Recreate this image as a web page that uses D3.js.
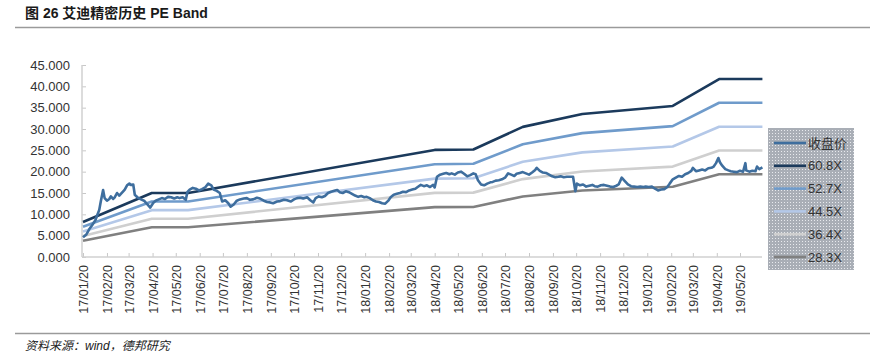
<!DOCTYPE html>
<html>
<head>
<meta charset="utf-8">
<script src="https://cdn.jsdelivr.net/npm/d3@7"></script>
<style>
  html, body { margin: 0; padding: 0; background: #fff; }
  svg { display: block; }
</style>
</head>
<body>
<svg id="chart" width="872" height="355"></svg>
<script>
// ---------------- DATA ----------------
const title = "图 26 艾迪精密历史 PE Band";
const source = "资料来源：wind，德邦研究";

const yTicks = [0, 5, 10, 15, 20, 25, 30, 35, 40, 45];
const xTickLabels = ["17/01/20","17/02/20","17/03/20","17/04/20","17/05/20","17/06/20","17/07/20",
  "17/08/20","17/09/20","17/10/20","17/11/20","17/12/20","18/01/20","18/02/20","18/03/20","18/04/20",
  "18/05/20","18/06/20","18/07/20","18/08/20","18/09/20","18/10/20","18/11/20","18/12/20","19/01/20",
  "19/02/20","19/03/20","19/04/20","19/05/20"];

const seriesNames = ["收盘价", "60.8X", "52.7X", "44.5X", "36.4X", "28.3X"];
const peMultiples = [60.8, 52.7, 44.5, 36.4, 28.3];

// EPS (trailing) breakpoints used to build the PE band lines
const epsDates = ["2017-01-20","2017-04-19","2017-06-05","2018-04-20","2018-06-09",
  "2018-08-12","2018-10-28","2019-02-22","2019-04-23","2019-06-18"];
const epsValues = [0.1349, 0.2467, 0.2467, 0.4128, 0.4145, 0.5016, 0.5510, 0.5822, 0.6859, 0.6859];

// closing price
const priceDates = [
"2017-01-20","2017-01-24","2017-01-28","2017-02-01","2017-02-05","2017-02-07","2017-02-10","2017-02-12","2017-02-15","2017-02-17",
"2017-02-20","2017-02-23","2017-02-25","2017-02-28","2017-03-02","2017-03-05","2017-03-08","2017-03-10","2017-03-13","2017-03-15",
"2017-03-18","2017-03-21","2017-03-23","2017-03-26","2017-03-28","2017-04-01","2017-04-05","2017-04-09","2017-04-13","2017-04-17",
"2017-04-21","2017-04-24","2017-04-28","2017-05-02","2017-05-06","2017-05-10","2017-05-14","2017-05-18","2017-05-22","2017-05-25",
"2017-05-29","2017-06-02","2017-06-04","2017-06-07","2017-06-11","2017-06-15","2017-06-19","2017-06-23","2017-06-27","2017-07-01",
"2017-07-05","2017-07-08","2017-07-12","2017-07-16","2017-07-19","2017-07-23","2017-07-27","2017-07-30","2017-08-03","2017-08-07",
"2017-08-11","2017-08-16","2017-08-20","2017-08-24","2017-08-28","2017-09-02","2017-09-06","2017-09-11","2017-09-15","2017-09-19",
"2017-09-23","2017-09-28","2017-10-02","2017-10-07","2017-10-11","2017-10-16","2017-10-20","2017-10-24","2017-10-28","2017-11-01",
"2017-11-06","2017-11-10","2017-11-14","2017-11-17","2017-11-21","2017-11-25","2017-11-29","2017-12-03","2017-12-07","2017-12-11",
"2017-12-15","2017-12-18","2017-12-22","2017-12-26","2017-12-30","2018-01-03","2018-01-07","2018-01-11","2018-01-15","2018-01-19",
"2018-01-22","2018-01-26","2018-01-30","2018-02-03","2018-02-07","2018-02-11","2018-02-15","2018-02-19","2018-02-22","2018-02-26",
"2018-03-02","2018-03-06","2018-03-10","2018-03-14","2018-03-18","2018-03-22","2018-03-26","2018-03-29","2018-04-02","2018-04-06",
"2018-04-10","2018-04-14","2018-04-18","2018-04-20","2018-04-23","2018-04-27","2018-05-01","2018-05-05","2018-05-09","2018-05-12",
"2018-05-16","2018-05-20","2018-05-24","2018-05-28","2018-06-01","2018-06-05","2018-06-09","2018-06-12","2018-06-15","2018-06-19",
"2018-06-23","2018-06-27","2018-07-01","2018-07-04","2018-07-08","2018-07-12","2018-07-16","2018-07-20","2018-07-24","2018-07-28",
"2018-08-01","2018-08-04","2018-08-08","2018-08-12","2018-08-16","2018-08-20","2018-08-24","2018-08-28","2018-08-30","2018-09-03",
"2018-09-07","2018-09-11","2018-09-15","2018-09-19","2018-09-23","2018-09-27","2018-09-30","2018-10-04","2018-10-08","2018-10-12",
"2018-10-16","2018-10-19","2018-10-21","2018-10-25","2018-10-29","2018-11-02","2018-11-06","2018-11-10","2018-11-13","2018-11-17",
"2018-11-21","2018-11-25","2018-11-29","2018-12-03","2018-12-07","2018-12-11","2018-12-14","2018-12-18","2018-12-22","2018-12-26",
"2018-12-30","2019-01-03","2019-01-07","2019-01-11","2019-01-15","2019-01-18","2019-01-22","2019-01-26","2019-01-30","2019-02-03",
"2019-02-07","2019-02-11","2019-02-15","2019-02-18","2019-02-22","2019-02-26","2019-03-02","2019-03-06","2019-03-10","2019-03-14",
"2019-03-18","2019-03-20","2019-03-24","2019-03-28","2019-04-01","2019-04-05","2019-04-09","2019-04-13","2019-04-16","2019-04-19",
"2019-04-22","2019-04-24","2019-04-27","2019-05-01","2019-05-05","2019-05-08","2019-05-12","2019-05-16","2019-05-20","2019-05-24",
"2019-05-27","2019-05-28","2019-06-01","2019-06-05","2019-06-09","2019-06-11","2019-06-14","2019-06-18"];
const priceValues = [
4.6,5.2,6.5,7.5,8.6,9.6,11.0,13.0,15.7,13.8,
13.2,13.6,14.2,13.6,14.0,15.0,14.4,14.8,15.4,15.8,
16.8,17.2,16.9,17.0,14.6,13.9,13.5,13.2,12.4,11.6,
12.7,13.2,13.5,13.8,13.6,14.1,14.0,13.7,14.0,13.8,
14.0,13.4,15.2,15.8,16.2,16.0,15.6,15.9,16.3,17.2,
16.8,15.8,15.5,15.0,13.0,13.3,12.6,11.8,12.3,13.2,
13.5,13.7,13.8,13.4,13.5,13.9,13.7,13.2,12.9,12.8,
12.6,13.0,13.1,13.4,13.3,13.0,13.5,13.8,13.9,13.7,
14.0,13.3,12.8,13.8,14.2,14.0,14.3,15.0,15.3,15.5,
15.7,15.2,15.0,15.4,15.2,14.8,14.4,14.1,14.3,14.0,
14.1,13.8,13.3,13.0,12.9,12.6,12.5,13.2,14.0,14.6,
14.8,15.0,15.3,15.2,15.6,15.8,16.0,16.4,16.9,16.6,
16.8,16.4,16.9,16.3,18.8,19.3,19.5,19.7,19.4,19.6,
19.3,19.8,20.0,19.5,18.9,19.2,19.6,19.4,18.0,17.0,
16.8,17.2,17.5,17.6,17.9,18.0,18.2,18.6,19.6,19.3,
19.0,19.5,19.7,19.9,19.6,19.3,19.8,20.4,20.9,20.2,
19.8,19.7,19.3,18.9,18.7,18.8,18.9,18.7,18.8,18.8,
18.8,15.4,17.2,16.8,17.0,16.5,16.7,16.9,16.6,16.5,
16.8,16.9,16.7,16.5,16.4,16.7,17.0,18.6,17.8,17.0,
16.6,16.5,16.4,16.5,16.4,16.5,16.4,16.5,16.0,15.6,
15.8,15.9,16.4,17.2,18.2,18.6,19.0,18.8,19.4,19.7,
20.2,20.9,20.1,20.3,20.5,20.3,20.8,20.9,21.2,22.0,
23.2,22.2,21.4,20.6,20.3,20.1,20.0,19.9,20.2,20.0,
22.0,20.3,20.0,20.2,20.1,21.2,20.6,21.0];

const colors = ["#3e6e9e", "#1b3a5c", "#6f9bcb", "#b4c8e8", "#cfcfcf", "#808080"];

// ---------------- DRAW ----------------
const parse = d3.timeParse("%Y-%m-%d");
const svg = d3.select("#chart");

const x = d3.scaleTime()
  .domain([parse("2017-01-20"), parse("2019-05-20")])
  .range([83, 740]);
const y = d3.scaleLinear().domain([0, 45]).range([257, 65]);

// title & rules
svg.append("text").attr("x", 25).attr("y", 18)
  .attr("font-family", "'Liberation Sans','Noto Sans CJK SC',sans-serif")
  .attr("font-weight", "bold").attr("font-size", 14).attr("fill", "#1a1a1a")
  .text(title);
svg.append("line").attr("x1", 15).attr("x2", 870).attr("y1", 27.5).attr("y2", 27.5)
  .attr("stroke", "#9a9a9a").attr("stroke-width", 1.5);
svg.append("line").attr("x1", 15).attr("x2", 870).attr("y1", 333.5).attr("y2", 333.5)
  .attr("stroke", "#9a9a9a").attr("stroke-width", 1.5);
svg.append("text").attr("x", 25).attr("y", 350)
  .attr("font-family", "'Liberation Sans','Noto Sans CJK SC',sans-serif")
  .attr("font-style", "italic").attr("font-size", 12).attr("fill", "#222")
  .attr("transform", "skewX(0)")
  .text(source);

// y axis
const yAxis = d3.axisLeft(y).tickValues(yTicks).tickFormat(d3.format(".3f")).tickSize(-4).tickPadding(12);
const gy = svg.append("g").attr("transform", "translate(82,0)").call(yAxis);
gy.select(".domain").remove();
gy.selectAll(".tick line").attr("stroke", "#c8c8c8");
gy.selectAll(".tick text").attr("font-family", "'Liberation Sans',Arial,sans-serif")
  .attr("font-size", 13).attr("fill", "#333");
svg.append("line").attr("x1", 82).attr("x2", 82).attr("y1", 65).attr("y2", 257)
  .attr("stroke", "#d0d0d0").attr("stroke-width", 1.5);

// x axis
const tickDates = xTickLabels.map(s => d3.timeParse("%y/%m/%d")(s));
const xAxis = d3.axisBottom(x).tickValues(tickDates).tickFormat(d3.timeFormat("%y/%m/%d")).tickSize(-4);
const gx = svg.append("g").attr("transform", "translate(0,257)").call(xAxis);
gx.select(".domain").remove();
gx.selectAll(".tick line").attr("stroke", "#c8c8c8");
gx.selectAll(".tick text")
  .attr("font-family", "'Liberation Sans',Arial,sans-serif")
  .attr("font-size", 12.5).attr("fill", "#333")
  .attr("text-anchor", "end").attr("dy", null).attr("y", 0)
  .attr("transform", "translate(4.5,8) rotate(-90)");
svg.append("line").attr("x1", 82).attr("x2", 762).attr("y1", 257).attr("y2", 257)
  .attr("stroke", "#d0d0d0").attr("stroke-width", 1.5);

// bands
const line = d3.line().x(d => x(d.date)).y(d => y(d.value));
peMultiples.forEach((m, i) => {
  const data = epsDates.map((d, j) => ({ date: parse(d), value: m * epsValues[j] }));
  svg.append("path").datum(data).attr("d", line)
    .attr("fill", "none").attr("stroke", colors[i + 1]).attr("stroke-width", 2.6)
    .attr("stroke-linejoin", "round");
});

// price
const priceData = priceDates.map((d, i) => ({ date: parse(d), value: priceValues[i] }));
svg.append("path").datum(priceData).attr("d", line)
  .attr("fill", "none").attr("stroke", colors[0]).attr("stroke-width", 2.6)
  .attr("stroke-linejoin", "round");

// legend
const defs = svg.append("defs");
const pat = defs.append("pattern").attr("id", "dots").attr("patternUnits", "userSpaceOnUse")
  .attr("width", 3).attr("height", 3);
pat.append("rect").attr("width", 3).attr("height", 3).attr("fill", "#a9aeb6");
pat.append("rect").attr("x", 1).attr("y", 1).attr("width", 1).attr("height", 1).attr("fill", "#e8eaee");

const lg = svg.append("g");
lg.append("rect").attr("x", 768).attr("y", 128).attr("width", 86).attr("height", 142)
  .attr("fill", "url(#dots)");
seriesNames.forEach((name, i) => {
  const yy = 143 + i * 22.8;
  lg.append("line").attr("x1", 774).attr("x2", 806).attr("y1", yy).attr("y2", yy)
    .attr("stroke", colors[i]).attr("stroke-width", 2.6);
  lg.append("text").attr("x", 808).attr("y", yy + 4.5)
    .attr("font-family", "'Liberation Sans','Noto Sans CJK SC',sans-serif")
    .attr("font-size", 13).attr("fill", "#333").text(name);
});
</script>
</body>
</html>
